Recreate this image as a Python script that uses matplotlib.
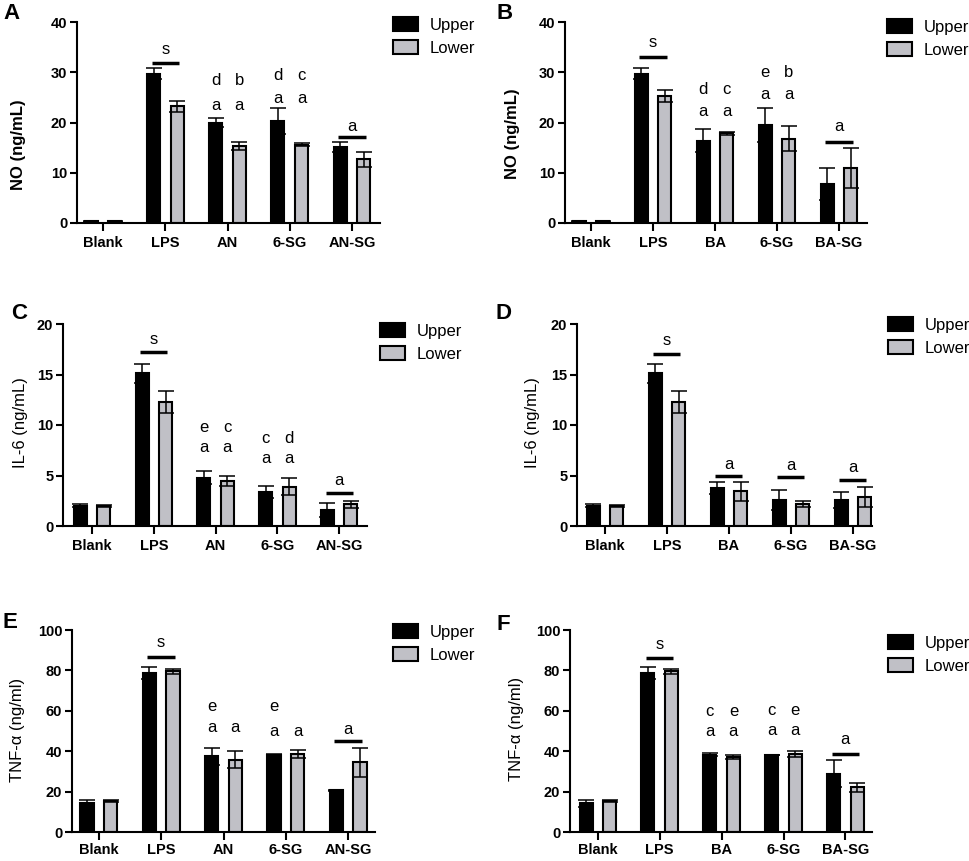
import matplotlib
matplotlib.use("Agg")
import matplotlib.pyplot as plt
import numpy as np

plt.rcParams['font.family'] = ['Liberation Sans', 'DejaVu Sans']

# ---------------- data ----------------
groups_A = ['Blank', 'LPS', 'AN', '6-SG', 'AN-SG']
groups_B = ['Blank', 'LPS', 'BA', '6-SG', 'BA-SG']
series_names = ['Upper', 'Lower']

# Panel A: NO
upper_A = [0.3, 29.7, 20.0, 20.3, 15.2]
upper_A_err = [0.05, 1.1, 0.9, 2.5, 1.0]
lower_A = [0.3, 23.2, 15.4, 15.6, 12.7]
lower_A_err = [0.05, 1.1, 0.8, 0.3, 1.5]
# (group, letter, line_y, letter_y)
lines_A = [(1, 's', 31.8, 34.6), (4, 'a', 17.2, 19.3)]
# (group, upper letters bottom->top, lower letters bottom->top, row1_y, row2_y)
pairs_A = [(2, ['a', 'd'], ['a', 'b'], 23.3, 28.3), (3, ['a', 'd'], ['a', 'c'], 24.8, 29.3)]

# Panel B: NO
upper_B = [0.3, 29.7, 16.4, 19.5, 7.7]
upper_B_err = [0.05, 1.1, 2.3, 3.3, 3.2]
lower_B = [0.3, 25.2, 17.9, 16.8, 10.9]
lower_B_err = [0.05, 1.2, 0.3, 2.5, 4.0]
lines_B = [(1, 's', 33.1, 36.0), (4, 'a', 16.2, 19.3)]
pairs_B = [(2, ['a', 'd'], ['a', 'c'], 22.2, 26.6), (3, ['a', 'e'], ['a', 'b'], 25.6, 29.9)]

# Panel C: IL-6
upper_C = [2.0, 15.1, 4.8, 3.4, 1.6]
upper_C_err = [0.15, 0.95, 0.6, 0.6, 0.7]
lower_C = [2.0, 12.3, 4.5, 3.9, 2.15]
lower_C_err = [0.1, 1.1, 0.5, 0.85, 0.35]
lines_C = [(1, 's', 17.2, 18.5), (4, 'a', 3.3, 4.5)]
pairs_C = [(2, ['a', 'e'], ['a', 'c'], 7.75, 9.8), (3, ['a', 'c'], ['a', 'd'], 6.7, 8.7)]

# Panel D: IL-6
upper_D = [2.0, 15.1, 3.8, 2.6, 2.6]
upper_D_err = [0.15, 0.95, 0.6, 1.0, 0.8]
lower_D = [2.0, 12.3, 3.45, 2.2, 2.9]
lower_D_err = [0.1, 1.1, 0.95, 0.3, 1.0]
lines_D = [(1, 's', 17.0, 18.4), (2, 'a', 5.0, 6.1), (3, 'a', 4.9, 6.0), (4, 'a', 4.6, 5.8)]
pairs_D = []

# Panel E: TNF-a
upper_E = [14.3, 78.6, 37.4, 38.1, 20.6]
upper_E_err = [1.7, 2.9, 4.1, 0.5, 0.3]
lower_E = [15.2, 79.6, 35.7, 38.6, 34.6]
lower_E_err = [0.4, 1.3, 4.2, 1.8, 7.2]
lines_E = [(1, 's', 86.5, 93.7), (4, 'a', 45.1, 50.9)]
pairs_E = [(2, ['a', 'e'], ['a'], 51.9, 62.1), (3, ['a', 'e'], ['a'], 49.8, 62.1)]

# Panel F: TNF-a
upper_F = [14.3, 78.6, 38.2, 38.1, 28.8]
upper_F_err = [1.7, 2.9, 0.8, 0.2, 6.6]
lower_F = [15.2, 79.6, 36.9, 38.6, 22.1]
lower_F_err = [0.4, 1.3, 1.0, 1.6, 2.4]
lines_F = [(1, 's', 86.3, 92.9), (4, 'a', 38.6, 45.6)]
pairs_F = [(2, ['a', 'c'], ['a', 'e'], 49.8, 59.6), (3, ['a', 'c'], ['a', 'e'], 50.2, 60.1)]

ylabels = ['NO (ng/mL)', 'NO (ng/mL)', 'IL-6 (ng/mL)', 'IL-6 (ng/mL)',
           'TNF-α (ng/ml)', 'TNF-α (ng/ml)']
yticks_NO = [0, 10, 20, 30, 40]
yticks_IL6 = [0, 5, 10, 15, 20]
yticks_TNF = [0, 20, 40, 60, 80, 100]

# ---------------- layout / style ----------------
W, H = 969, 861
GRAY = '#c0c0c6'
BW = 0.21
OFF = 0.19

fig = plt.figure(figsize=(W / 100, H / 100), dpi=100)


def add_axes_px(l, r, t, b):
    return fig.add_axes([l / W, 1 - b / H, (r - l) / W, (b - t) / H])


panels = [
    dict(letter='A', box=(77, 380, 22, 223), xlim=(-0.42, 4.45), groups=groups_A,
         up=upper_A, upe=upper_A_err, lo=lower_A, loe=lower_A_err, lines=lines_A, pairs=pairs_A,
         yticks=yticks_NO, ylab=ylabels[0], labw='bold', labpos=(19, 145),
         leg=(393, 27), lpos=(3, 3), xpad=4),
    dict(letter='B', box=(565, 867, 22, 223), xlim=(-0.42, 4.45), groups=groups_B,
         up=upper_B, upe=upper_B_err, lo=lower_B, loe=lower_B_err, lines=lines_B, pairs=pairs_B,
         yticks=yticks_NO, ylab=ylabels[1], labw='bold', labpos=(513, 134),
         leg=(887, 29), lpos=(497, 3), xpad=4),
    dict(letter='C', box=(63, 367, 324, 526), xlim=(-0.47, 4.45), groups=groups_A,
         up=upper_C, upe=upper_C_err, lo=lower_C, loe=lower_C_err, lines=lines_C, pairs=pairs_C,
         yticks=yticks_IL6, ylab=ylabels[2], labw='normal', labpos=(20, 423),
         leg=(380, 333), lpos=(11, 303), xpad=4),
    dict(letter='D', box=(577, 872, 324, 526), xlim=(-0.45, 4.31), groups=groups_B,
         up=upper_D, upe=upper_D_err, lo=lower_D, loe=lower_D_err, lines=lines_D, pairs=pairs_D,
         yticks=yticks_IL6, ylab=ylabels[3], labw='normal', labpos=(533, 423),
         leg=(888, 327), lpos=(496, 303), xpad=4),
    dict(letter='E', box=(72, 375, 630, 832), xlim=(-0.43, 4.43), groups=groups_A,
         up=upper_E, upe=upper_E_err, lo=lower_E, loe=lower_E_err, lines=lines_E, pairs=pairs_E,
         yticks=yticks_TNF, ylab=ylabels[4], labw='normal', labpos=(18, 730),
         leg=(393, 634), lpos=(3, 612), xpad=2.5),
    dict(letter='F', box=(570, 872, 630, 832), xlim=(-0.45, 4.43), groups=groups_B,
         up=upper_F, upe=upper_F_err, lo=lower_F, loe=lower_F_err, lines=lines_F, pairs=pairs_F,
         yticks=yticks_TNF, ylab=ylabels[5], labw='normal', labpos=(517, 729),
         leg=(888, 645), lpos=(497, 614), xpad=2.5),
]

for p in panels:
    l, r, t, b = p['box']
    ax = add_axes_px(l, r, t, b)
    x = np.arange(len(p['groups']))
    bu = ax.bar(x - OFF, p['up'], BW, color='black', edgecolor='black', linewidth=1.5,
                label=series_names[0], zorder=2)
    bl = ax.bar(x + OFF, p['lo'], BW, color=GRAY, edgecolor='black', linewidth=1.5,
                label=series_names[1], zorder=2)
    ax.errorbar(x - OFF, p['up'], yerr=p['upe'], fmt='none', ecolor='black',
                elinewidth=1.1, capsize=6, capthick=1.1, zorder=3)
    ax.errorbar(x + OFF, p['lo'], yerr=p['loe'], fmt='none', ecolor='black',
                elinewidth=1.1, capsize=6, capthick=1.1, zorder=3)

    ax.set_xlim(*p['xlim'])
    ax.set_ylim(0, p['yticks'][-1])
    ax.set_yticks(p['yticks'])
    ax.set_xticks(x)
    ax.set_xticklabels(p['groups'])
    for s in ['top', 'right']:
        ax.spines[s].set_visible(False)
    for s in ['left', 'bottom']:
        ax.spines[s].set_linewidth(1.5)
    ax.tick_params(axis='y', direction='out', length=5, width=1.5, pad=2,
                   labelsize=10.5)
    ax.tick_params(axis='x', direction='out', length=5.5, width=1.5, pad=p['xpad'],
                   labelsize=10.5)
    for lab in ax.get_xticklabels() + ax.get_yticklabels():
        lab.set_fontweight('bold')

    # y label
    ax.set_ylabel(p['ylab'], fontsize=12, fontweight=p['labw'], va='center')
    lx, ly = p['labpos']
    ax.yaxis.set_label_coords((lx - l) / (r - l), (b - ly) / (b - t))

    # significance lines
    for g, letter, ly_, ty in p['lines']:
        ax.plot([g - 0.22, g + 0.22], [ly_, ly_], color='black', lw=2.5,
                solid_capstyle='butt', clip_on=False, zorder=4)
        ax.text(g, ty, letter, ha='center', va='center', fontsize=12, clip_on=False)
    for g, ul, ll, y1, y2 in p['pairs']:
        ys = [y1, y2]
        for i, letter in enumerate(ul):
            ax.text(g - OFF, ys[i], letter, ha='center', va='center', fontsize=12)
        for i, letter in enumerate(ll):
            ax.text(g + OFF, ys[i], letter, ha='center', va='center', fontsize=12)

    # legend
    gx, gy = p['leg']
    ax.legend(handles=[bu, bl], loc='upper left',
              bbox_to_anchor=(gx / W, 1 - (gy - 9.6) / H), bbox_transform=fig.transFigure,
              frameon=False, fontsize=12, handlelength=1.5, handleheight=0.85,
              handletextpad=0.7, labelspacing=0.45, borderpad=0, borderaxespad=0)

    # panel letter
    px, py = p['lpos']
    fig.text(px / W, 1 - py / H, p['letter'], fontsize=16, fontweight='bold',
             ha='left', va='top')

fig.savefig('out.png', dpi=100)
